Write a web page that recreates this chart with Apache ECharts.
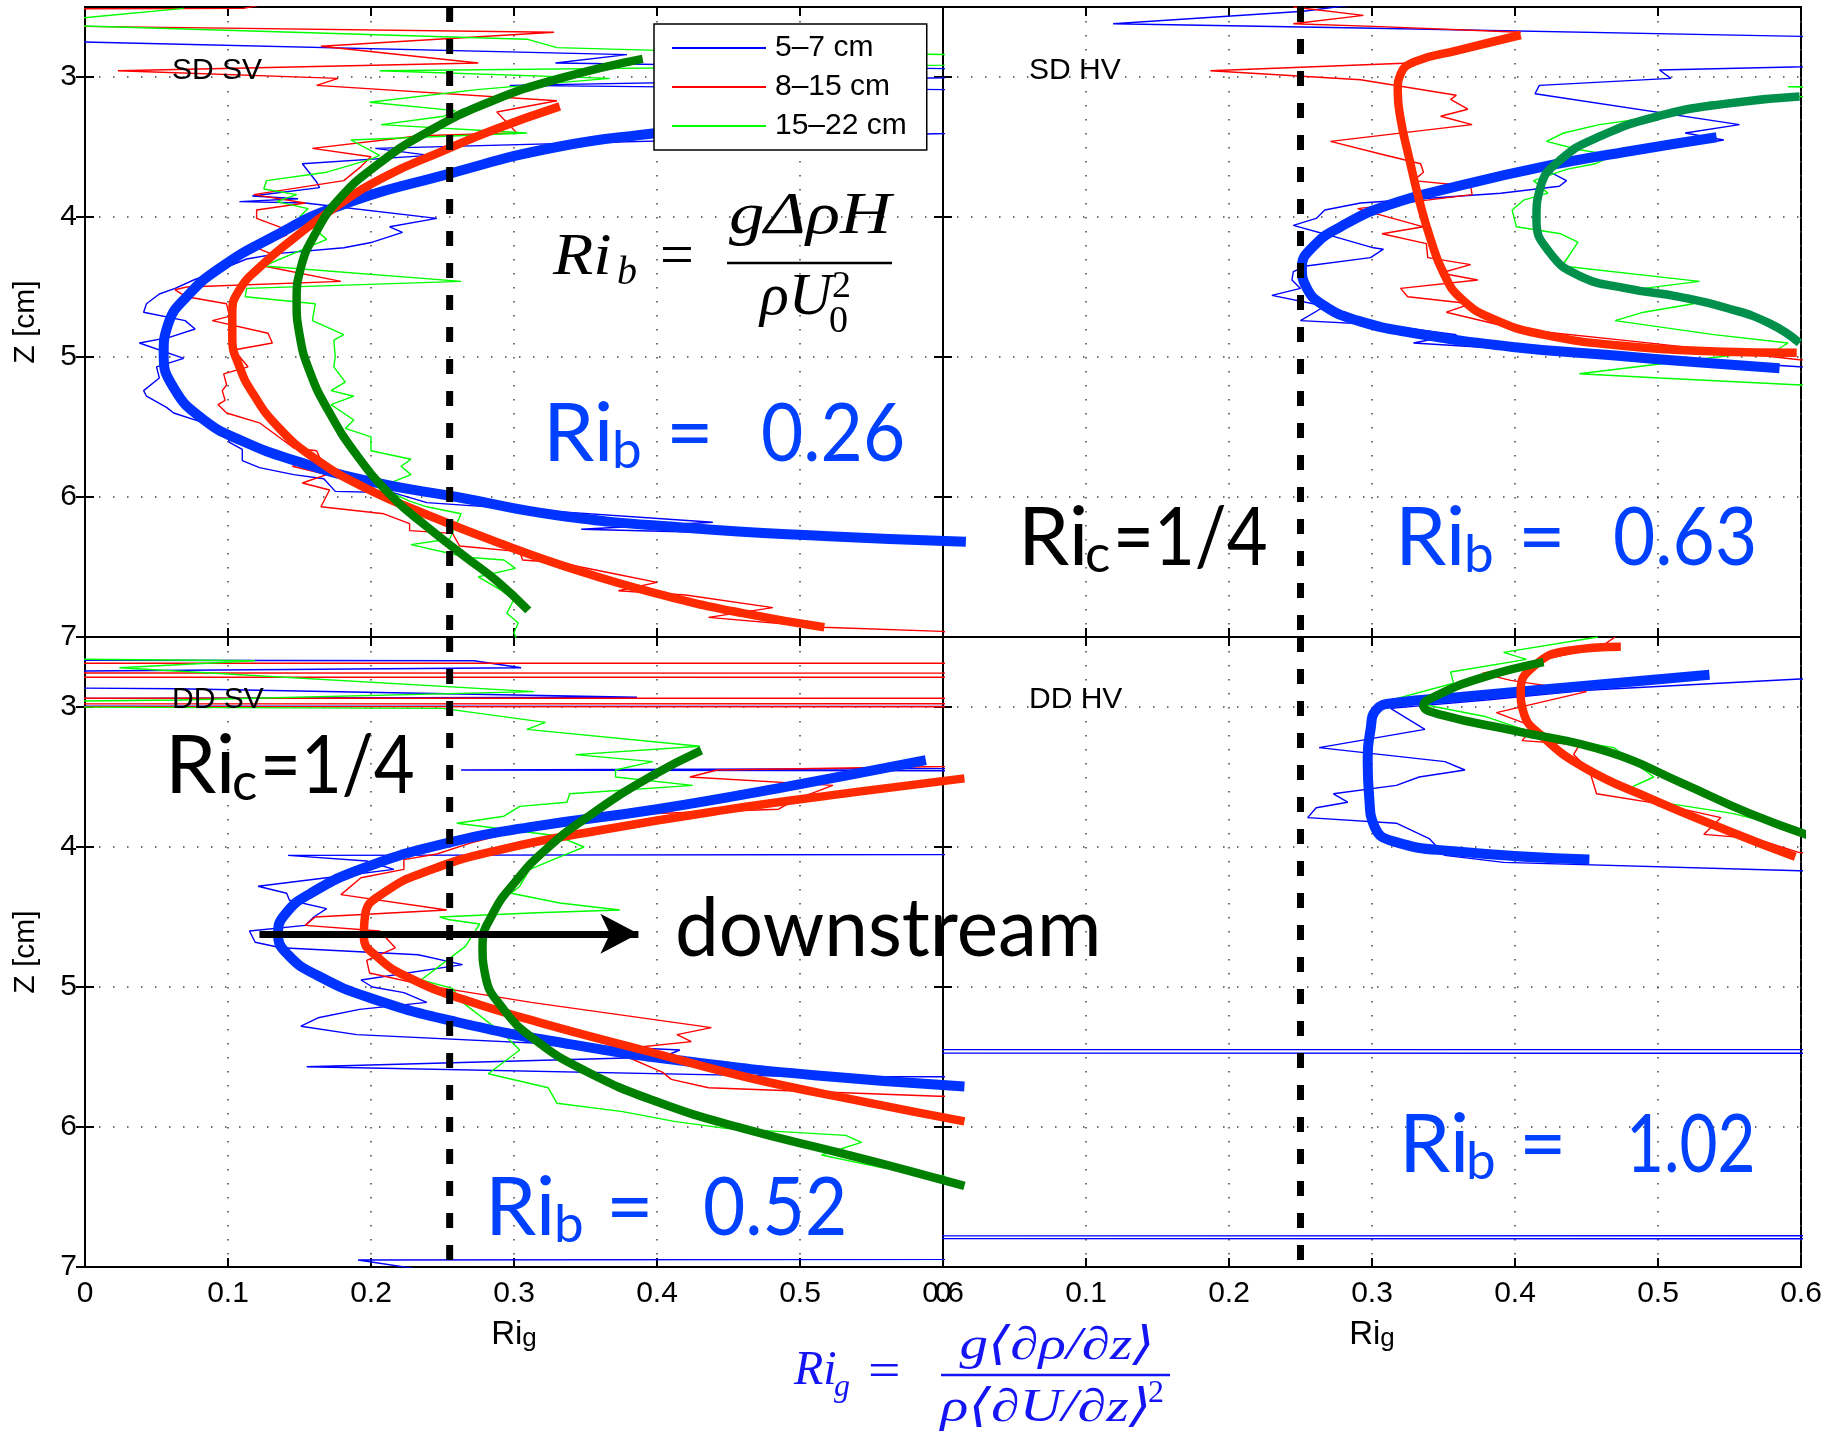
<!DOCTYPE html>
<html><head><meta charset="utf-8">
<script src="https://cdn.jsdelivr.net/npm/echarts@6/dist/echarts.min.js"></script>
<style>html,body{margin:0;padding:0;background:#fff}#c{width:1834px;height:1441px}</style>
</head><body><div id="c"></div>
<script>
// ---------------- DATA (x = Ri_g, y = Z [cm]) ----------------
const legendNames = ['5–7 cm', '8–15 cm', '15–22 cm'];
const panelTitles = ['SD SV', 'SD HV', 'DD SV', 'DD HV'];
const ribValues = ['0.26', '0.63', '0.52', '1.02'];
const RIC_LEFT = 0.255, RIC_RIGHT = 0.25;
const yTickValues = [3, 4, 5, 6, 7];
const arrowZ = 4.62, arrowX0 = 0.122, arrowX1 = 0.387;

// SD SV (top-left)
const sdsv_blue = [[-0.3,2.68],[0.379,2.84],[0.329,2.90],[0.8,2.97],[0.297,3.06],[0.8,3.11],[0.8,3.35],[0.203,3.51],[0.241,3.56],[0.152,3.62],[0.162,3.75],[0.164,3.79],[0.117,3.85],[0.149,3.87],[0.108,3.89],[0.154,3.90],[0.246,4.01],[0.213,4.07],[0.222,4.11],[0.201,4.18],[0.181,4.22],[0.136,4.26],[0.113,4.30],[0.094,4.38],[0.076,4.45],[0.063,4.51],[0.052,4.55],[0.043,4.62],[0.041,4.68],[0.070,4.74],[0.077,4.80],[0.059,4.86],[0.038,4.90],[0.069,5.01],[0.050,5.07],[0.052,5.15],[0.041,5.24],[0.043,5.28],[0.057,5.36],[0.062,5.40],[0.080,5.46],[0.099,5.54],[0.101,5.61],[0.110,5.66],[0.110,5.74],[0.122,5.79],[0.146,5.84],[0.167,5.87],[0.175,5.96],[0.216,5.97],[0.239,6.04],[0.439,6.18],[0.347,6.23],[0.5,6.27],[0.62,6.31]];
const sdsv_red = [[0.13,2.47],[0.111,2.51],[-0.3,2.52],[-0.3,2.60],[0.328,2.68],[0.165,2.78],[0.275,2.90],[0.023,2.955],[0.177,3.01],[0.162,3.06],[0.33,3.17],[0.288,3.25],[0.302,3.40],[0.234,3.42],[0.159,3.51],[0.200,3.57],[0.193,3.64],[0.181,3.74],[0.118,3.84],[0.154,3.90],[0.120,3.95],[0.120,4.01],[0.141,4.09],[0.141,4.13],[0.120,4.22],[0.132,4.27],[0.125,4.35],[0.179,4.46],[0.071,4.50],[0.063,4.52],[0.071,4.57],[0.099,4.62],[0.101,4.71],[0.089,4.74],[0.128,4.83],[0.131,4.90],[0.104,4.95],[0.114,5.07],[0.097,5.12],[0.099,5.20],[0.096,5.24],[0.098,5.31],[0.093,5.34],[0.099,5.40],[0.122,5.47],[0.146,5.65],[0.162,5.67],[0.165,5.74],[0.145,5.78],[0.169,5.84],[0.152,5.90],[0.171,5.95],[0.165,6.07],[0.209,6.12],[0.227,6.19],[0.227,6.24],[0.257,6.26],[0.262,6.35],[0.304,6.39],[0.306,6.45],[0.332,6.47],[0.371,6.55],[0.40,6.61],[0.373,6.67],[0.42,6.70],[0.481,6.79],[0.436,6.86],[0.516,6.93],[0.599,6.96],[0.62,6.98]];
const sdsv_green = [[0.069,2.51],[-0.02,2.595],[-0.02,2.63],[0.309,2.73],[0.33,2.79],[0.40,2.81],[0.75,2.86],[0.75,2.90],[0.206,2.955],[0.367,3.01],[0.274,3.09],[0.199,3.18],[0.259,3.24],[0.251,3.28],[0.207,3.34],[0.309,3.40],[0.186,3.45],[0.206,3.56],[0.199,3.59],[0.169,3.68],[0.127,3.74],[0.125,3.80],[0.148,3.84],[0.134,3.89],[0.156,3.94],[0.15,4.0],[0.16,4.08],[0.169,4.16],[0.155,4.22],[0.125,4.35],[0.263,4.46],[0.113,4.51],[0.112,4.57],[0.161,4.62],[0.159,4.74],[0.181,4.84],[0.174,4.88],[0.175,5.0],[0.174,5.07],[0.182,5.18],[0.172,5.24],[0.188,5.28],[0.172,5.34],[0.188,5.45],[0.182,5.51],[0.200,5.57],[0.200,5.67],[0.228,5.73],[0.221,5.78],[0.228,5.84],[0.206,5.93],[0.227,6.03],[0.239,6.07],[0.263,6.12],[0.255,6.30],[0.228,6.34],[0.267,6.43],[0.293,6.45],[0.301,6.51],[0.275,6.57],[0.290,6.66],[0.300,6.73],[0.295,6.83],[0.303,6.90],[0.300,6.97],[0.302,7.02]];
const sdsv_blue_fit = [[0.56,3.20],[0.40,3.40],[0.33,3.50],[0.255,3.69],[0.175,3.93],[0.13,4.15],[0.095,4.36],[0.072,4.56],[0.058,4.77],[0.055,4.98],[0.062,5.22],[0.082,5.44],[0.11,5.60],[0.15,5.75],[0.20,5.89],[0.26,6.00],[0.33,6.13],[0.42,6.22],[0.52,6.28],[0.616,6.32]];
const sdsv_red_fit = [[0.332,3.21],[0.285,3.38],[0.25,3.53],[0.21,3.71],[0.175,3.93],[0.145,4.16],[0.122,4.36],[0.108,4.52],[0.103,4.68],[0.103,4.86],[0.108,5.07],[0.118,5.27],[0.135,5.50],[0.160,5.72],[0.195,5.93],[0.24,6.13],[0.29,6.33],[0.34,6.51],[0.40,6.69],[0.46,6.83],[0.517,6.93]];
const sdsv_green_fit = [[0.390,2.87],[0.332,3.01],[0.285,3.17],[0.240,3.39],[0.204,3.63],[0.177,3.88],[0.161,4.12],[0.151,4.36],[0.148,4.60],[0.150,4.84],[0.157,5.10],[0.170,5.38],[0.190,5.70],[0.215,6.00],[0.240,6.22],[0.265,6.42],[0.288,6.60],[0.310,6.81]];

// SD HV (top-right)
const sdhv_blue = [[0.29,2.48],[0.252,2.53],[0.119,2.62],[0.292,2.65],[0.6,2.71],[0.8,2.80],[0.8,2.88],[0.501,2.95],[0.509,3.01],[0.417,3.06],[0.414,3.12],[0.557,3.34],[0.519,3.40],[0.546,3.45],[0.48,3.55],[0.419,3.65],[0.436,3.74],[0.431,3.78],[0.390,3.83],[0.292,3.90],[0.267,3.95],[0.261,4.01],[0.245,4.06],[0.270,4.13],[0.301,4.22],[0.308,4.23],[0.299,4.29],[0.254,4.35],[0.245,4.39],[0.244,4.45],[0.250,4.51],[0.230,4.56],[0.264,4.63],[0.265,4.65],[0.250,4.74],[0.306,4.77],[0.359,4.84],[0.329,4.90],[0.599,5.07],[0.8,5.12]];
const sdhv_red = [[0.245,2.50],[0.294,2.56],[0.245,2.62],[0.306,2.64],[0.404,2.68],[0.36,2.81],[0.327,2.90],[0.187,2.955],[0.292,3.02],[0.359,3.13],[0.355,3.16],[0.367,3.23],[0.348,3.28],[0.370,3.34],[0.271,3.46],[0.306,3.55],[0.334,3.62],[0.336,3.68],[0.329,3.74],[0.369,3.78],[0.370,3.84],[0.29,3.94],[0.336,4.07],[0.307,4.12],[0.338,4.19],[0.339,4.29],[0.369,4.34],[0.348,4.40],[0.374,4.45],[0.320,4.51],[0.325,4.57],[0.369,4.62],[0.352,4.68],[0.401,4.80],[0.485,4.89],[0.599,5.02],[0.8,5.05]];
const sdhv_green = [[0.7,3.05],[0.591,3.07],[0.7,3.10],[0.599,3.14],[0.536,3.18],[0.501,3.28],[0.459,3.34],[0.434,3.40],[0.422,3.46],[0.445,3.52],[0.469,3.56],[0.456,3.62],[0.436,3.66],[0.413,3.74],[0.423,3.83],[0.406,3.88],[0.398,3.95],[0.401,4.07],[0.432,4.12],[0.444,4.18],[0.433,4.35],[0.529,4.46],[0.490,4.51],[0.525,4.62],[0.490,4.68],[0.470,4.74],[0.539,4.84],[0.591,4.90],[0.583,4.95],[0.501,5.05],[0.445,5.12],[0.501,5.15],[0.6,5.2],[0.7,5.22]];
const sdhv_blue_fit = [[0.541,3.43],[0.48,3.53],[0.42,3.64],[0.36,3.78],[0.31,3.92],[0.278,4.07],[0.259,4.21],[0.251,4.36],[0.254,4.50],[0.266,4.63],[0.29,4.74],[0.33,4.83],[0.40,4.93],[0.47,4.99],[0.53,5.04],[0.585,5.08]];
const sdhv_red_fit = [[0.404,2.70],[0.36,2.81],[0.33,2.89],[0.32,2.98],[0.318,3.10],[0.320,3.30],[0.326,3.58],[0.333,3.88],[0.341,4.16],[0.350,4.40],[0.362,4.58],[0.385,4.73],[0.42,4.84],[0.475,4.92],[0.54,4.96],[0.597,4.97]];
const sdhv_green_fit = [[0.599,3.14],[0.548,3.19],[0.50,3.28],[0.458,3.43],[0.432,3.59],[0.418,3.78],[0.415,4.02],[0.424,4.25],[0.445,4.42],[0.478,4.51],[0.515,4.57],[0.548,4.65],[0.578,4.76],[0.599,4.90]];

// DD SV (bottom-left)
const ddsv_blue = [[-0.5,2.66],[0.272,2.67],[0.305,2.72],[-0.5,2.78],[-0.2,2.85],[0.064,2.87],[0.386,2.93],[-0.5,2.95],[-5,2.99],[5,3.0],[5,3.30],[0.263,3.45],[5,3.52],[5,3.99],[0.142,4.06],[0.197,4.10],[0.216,4.16],[0.169,4.22],[0.121,4.28],[0.141,4.33],[0.143,4.38],[0.169,4.44],[0.160,4.50],[0.154,4.56],[0.115,4.60],[0.119,4.68],[0.137,4.72],[0.233,4.77],[0.264,4.84],[0.193,4.95],[0.201,5.0],[0.223,5.04],[0.239,5.11],[0.192,5.16],[0.163,5.22],[0.151,5.28],[0.190,5.34],[0.416,5.45],[0.404,5.50],[0.155,5.57],[0.504,5.64],[5,5.70],[5,6.90],[0.191,6.95],[0.23,7.01]];
const ddsv_red = [[0.50,2.48],[5,2.56],[5,2.685],[-5,2.69],[-5,2.755],[5,2.76],[5,2.785],[-5,2.79],[-5,2.935],[5,2.94],[5,2.975],[-5,2.98],[-5,2.995],[5,3.0],[0.7,3.41],[0.442,3.45],[0.423,3.50],[0.523,3.56],[0.497,3.66],[0.485,3.73],[0.374,3.77],[0.304,3.88],[0.27,3.97],[0.246,4.05],[0.223,4.09],[0.223,4.16],[0.193,4.22],[0.179,4.34],[0.253,4.45],[0.161,4.50],[0.154,4.56],[0.206,4.60],[0.217,4.72],[0.197,4.81],[0.199,4.90],[0.239,4.99],[0.312,5.11],[0.438,5.29],[0.414,5.34],[0.424,5.39],[0.368,5.45],[0.404,5.61],[0.410,5.66],[0.436,5.72],[0.597,5.78],[0.8,5.80]];
const ddsv_green = [[-0.3,2.63],[0.119,2.67],[0.024,2.72],[0.314,2.89],[0.066,2.95],[-0.3,2.99],[0.25,3.01],[0.322,3.11],[0.309,3.16],[0.430,3.28],[0.343,3.34],[0.397,3.39],[0.371,3.45],[0.371,3.50],[0.425,3.56],[0.339,3.62],[0.337,3.68],[0.304,3.71],[0.293,3.78],[0.260,3.83],[0.33,3.92],[0.349,4.0],[0.332,4.07],[0.311,4.16],[0.304,4.28],[0.298,4.33],[0.332,4.40],[0.374,4.45],[0.316,4.47],[0.248,4.50],[0.255,4.52],[0.276,4.55],[0.266,4.71],[0.235,4.95],[0.257,5.01],[0.264,5.11],[0.292,5.33],[0.304,5.45],[0.282,5.62],[0.324,5.72],[0.330,5.83],[0.376,5.89],[0.412,5.96],[0.448,6.01],[0.532,6.06],[0.543,6.11],[0.515,6.20],[0.557,6.29],[0.608,6.36],[0.7,6.40]];
const ddsv_blue_fit = [[0.588,3.38],[0.49,3.57],[0.40,3.73],[0.31,3.86],[0.25,3.98],[0.195,4.15],[0.158,4.33],[0.140,4.48],[0.135,4.62],[0.142,4.77],[0.163,4.92],[0.20,5.08],[0.26,5.25],[0.34,5.41],[0.42,5.53],[0.51,5.63],[0.615,5.71]];
const ddsv_red_fit = [[0.615,3.51],[0.537,3.61],[0.444,3.74],[0.36,3.88],[0.29,4.02],[0.24,4.17],[0.210,4.32],[0.196,4.48],[0.195,4.64],[0.205,4.79],[0.228,4.94],[0.265,5.09],[0.32,5.26],[0.39,5.45],[0.465,5.65],[0.545,5.82],[0.615,5.96]];
const ddsv_green_fit = [[0.431,3.31],[0.395,3.50],[0.355,3.76],[0.322,4.02],[0.300,4.26],[0.285,4.48],[0.278,4.70],[0.280,4.92],[0.292,5.15],[0.315,5.38],[0.35,5.60],[0.40,5.82],[0.46,6.01],[0.53,6.19],[0.575,6.31],[0.615,6.42]];

// DD HV (bottom-right)
const ddhv_blue = [[0.8,2.78],[0.599,2.80],[0.450,2.88],[0.380,2.95],[0.313,3.01],[0.337,3.16],[0.263,3.29],[0.351,3.39],[0.365,3.45],[0.333,3.50],[0.317,3.56],[0.273,3.62],[0.283,3.68],[0.261,3.72],[0.255,3.79],[0.317,3.83],[0.340,3.94],[0.351,4.06],[0.392,4.11],[0.599,4.17],[5,4.25],[5,5.445],[-5,5.45],[-5,5.47],[5,5.475],[5,6.775],[-5,6.78],[-5,6.795],[5,6.80]];
const ddhv_red = [[0.470,2.50],[0.460,2.57],[0.408,2.69],[0.377,2.76],[0.397,2.81],[0.450,2.89],[0.387,3.04],[0.413,3.14],[0.405,3.24],[0.445,3.27],[0.441,3.34],[0.452,3.45],[0.457,3.62],[0.500,3.69],[0.544,3.79],[0.532,3.91],[0.568,3.94],[0.599,4.04],[0.7,4.08]];
const ddhv_green = [[0.458,2.50],[0.392,2.61],[0.408,2.66],[0.355,2.75],[0.357,2.83],[0.317,2.94],[0.345,3.00],[0.380,3.07],[0.417,3.20],[0.469,3.29],[0.497,3.50],[0.480,3.58],[0.508,3.69],[0.552,3.76],[0.599,3.88],[0.7,3.90]];
const ddhv_blue_fit = [[0.536,2.77],[0.436,2.86],[0.36,2.93],[0.317,2.97],[0.303,3.02],[0.299,3.16],[0.297,3.40],[0.298,3.64],[0.302,3.86],[0.315,3.96],[0.357,4.03],[0.452,4.09]];
const ddhv_red_fit = [[0.474,2.57],[0.436,2.60],[0.413,2.71],[0.404,2.88],[0.406,3.04],[0.418,3.20],[0.448,3.43],[0.496,3.66],[0.548,3.88],[0.596,4.07]];
const ddhv_green_fit = [[0.420,2.68],[0.377,2.79],[0.347,2.91],[0.336,2.99],[0.350,3.06],[0.400,3.17],[0.465,3.32],[0.516,3.54],[0.564,3.76],[0.612,3.94]];

// ---------------- CHART ----------------
const FONT_SANS = '"Liberation Sans", Arial, sans-serif';
const FONT_GILL = 'Lato, "Open Sans", sans-serif';
const FONT_TEX = '"Liberation Serif", "DejaVu Serif", serif';
const C_THIN = ['#0000ff', '#ff0000', '#00ff00'];
const C_FIT = ['#0033ff', '#ff2a00', '#008000'];
const W_FIT = [10, 8.5, 8.5];
const C_FIT_GREEN_TR = '#00904c';
const C_ANN = '#0040ff';
const X_MAX = 0.6, X_OVER = 0.65; // overlay range so the fitted curves of the left panels may run past the frame

const grids = [
  {left: 85, top: 7, width: 858, height: 630},
  {left: 943, top: 7, width: 858, height: 630},
  {left: 85, top: 637, width: 858, height: 630},
  {left: 943, top: 637, width: 858, height: 630}
].map(g => Object.assign(g, {show: true, borderColor: '#000', borderWidth: 2, backgroundColor: 'transparent'}));
grids.push({left: 85, top: 7, width: 858 * X_OVER / X_MAX, height: 630, show: false});
grids.push({left: 85, top: 637, width: 858 * X_OVER / X_MAX, height: 630, show: false});

const tickStyle = {show: true, inside: true, length: 9, lineStyle: {color: '#000', width: 2}};
const gridLine = {show: true, lineStyle: {color: '#444', width: 1.5, type: [1.5, 12.5]}};

const xAxis = [], yAxis = [];
for (let i = 0; i < 4; i++) {
  const bottomRow = i >= 2, leftCol = i % 2 === 0;
  xAxis.push({
    type: 'value', gridIndex: i, min: 0, max: X_MAX, interval: 0.1, position: 'bottom',
    axisLine: {show: true, onZero: false, lineStyle: {color: '#000', width: 2}},
    axisTick: tickStyle,
    axisLabel: {show: bottomRow, fontSize: 30, fontFamily: FONT_SANS, color: '#000', margin: 12,
      formatter: v => String(Math.round(v * 10) / 10)},
    splitLine: gridLine,
    name: bottomRow ? '{r|Ri}{s|g}' : '', nameLocation: 'middle', nameGap: 47,
    nameTextStyle: {rich: {
      r: {fontSize: 33, fontFamily: FONT_SANS, color: '#000', verticalAlign: 'top', lineHeight: 33},
      s: {fontSize: 26, fontFamily: FONT_SANS, color: '#000', verticalAlign: 'bottom', lineHeight: 26, padding: [16, 0, 0, 0]}
    }}
  });
  yAxis.push({
    type: 'value', gridIndex: i, min: 2.5, max: 7, inverse: true, position: 'left',
    axisLine: {show: true, onZero: false, lineStyle: {color: '#000', width: 2}},
    axisTick: Object.assign({customValues: yTickValues}, tickStyle),
    axisLabel: {show: leftCol, customValues: yTickValues, fontSize: 30, fontFamily: FONT_SANS, color: '#000', margin: 8},
    splitLine: gridLine,
    name: leftCol ? 'Z [cm]' : '', nameLocation: 'middle', nameRotate: 90, nameGap: 44,
    nameTextStyle: {fontSize: 30, fontFamily: FONT_SANS, color: '#000'}
  });
}
for (let i = 0; i < 4; i++) {
  xAxis.push({type: 'value', gridIndex: i, min: 0, max: X_MAX, interval: 0.1, position: 'top',
    axisLine: {show: false}, axisTick: tickStyle, axisLabel: {show: false}, splitLine: {show: false}});
  yAxis.push({type: 'value', gridIndex: i, min: 2.5, max: 7, inverse: true, position: 'right',
    axisLine: {show: false}, axisTick: Object.assign({customValues: yTickValues}, tickStyle),
    axisLabel: {show: false}, splitLine: {show: false}});
}
[4, 5].forEach(g => {
  xAxis.push({type: 'value', gridIndex: g, min: 0, max: X_OVER, show: false, splitLine: {show: false}});
  yAxis.push({type: 'value', gridIndex: g, min: 2.5, max: 7, inverse: true, show: false, splitLine: {show: false}});
});
const fitAxis = [8, 1, 9, 3];

const series = [];
function thin(p, k, data) {
  series.push({type: 'line', name: legendNames[k], xAxisIndex: p, yAxisIndex: p, data,
    symbol: 'none', showSymbol: false, clip: true, z: 2, silent: true,
    lineStyle: {width: 1.4, color: C_THIN[k]}, itemStyle: {color: C_THIN[k]}});
}
function fit(p, k, data, color) {
  const c = color || C_FIT[k];
  const a = fitAxis[p];
  series.push({type: 'line', name: 'fit ' + legendNames[k], xAxisIndex: a, yAxisIndex: a, data,
    symbol: 'none', showSymbol: false, clip: false, z: 3, silent: true, smooth: 0.5,
    lineStyle: {width: W_FIT[k], color: c, cap: 'butt', join: 'round'}, itemStyle: {color: c}});
}
function ric(p, x) {
  series.push({type: 'line', name: 'Ri_c', xAxisIndex: p, yAxisIndex: p, data: [[x, 2.5], [x, 7]],
    symbol: 'none', clip: true, z: 5, silent: true,
    lineStyle: {width: 7, color: '#000', type: [15, 17], cap: 'butt'}});
}

const panels = [
  [sdsv_blue, sdsv_red, sdsv_green, sdsv_blue_fit, sdsv_red_fit, sdsv_green_fit],
  [sdhv_blue, sdhv_red, sdhv_green, sdhv_blue_fit, sdhv_red_fit, sdhv_green_fit],
  [ddsv_blue, ddsv_red, ddsv_green, ddsv_blue_fit, ddsv_red_fit, ddsv_green_fit],
  [ddhv_blue, ddhv_red, ddhv_green, ddhv_blue_fit, ddhv_red_fit, ddhv_green_fit]
];
panels.forEach((d, p) => {
  thin(p, 0, d[0]); thin(p, 1, d[1]); thin(p, 2, d[2]);
  fit(p, 0, d[3]); fit(p, 1, d[4]); fit(p, 2, d[5], p === 1 ? C_FIT_GREEN_TR : null);
  ric(p, p % 2 === 0 ? RIC_LEFT : RIC_RIGHT);
});

// "downstream" arrow
series.push({type: 'line', name: 'arrow', xAxisIndex: 2, yAxisIndex: 2, data: [], z: 6, silent: true,
  markLine: {silent: true, symbol: ['none', 'arrow'], symbolSize: [30, 38], animation: false,
    lineStyle: {color: '#000', width: 7, type: 'solid'}, label: {show: false},
    data: [[{coord: [arrowX0, arrowZ]}, {coord: [arrowX1, arrowZ]}]]}});

// ---------------- annotations ----------------
function T(x, y, text, font, fill, align, sx) {
  return {type: 'text', x, y, z: 100, silent: true, scaleX: sx || 1,
    style: {text, font, fill: fill || '#000', textAlign: align || 'left', textVerticalAlign: 'middle', verticalAlign: 'middle'}};
}
function L(x1, y1, x2, y2, color, w) {
  return {type: 'line', z: 100, silent: true, shape: {x1, y1, x2, y2}, style: {stroke: color, lineWidth: w}};
}
const G = 82, GS = 53;
const gM = s => 0.387 * s;
const graphic = [];
[[172, 70.5], [1029, 70.5], [172, 700], [1029, 700]].forEach((p, i) =>
  graphic.push(T(p[0], p[1], panelTitles[i], '30px ' + FONT_SANS, '#000')));
function rib(x, base, val, xs, sx) {
  graphic.push(T(x, base - gM(G), 'Ri', G + 'px ' + FONT_GILL, C_ANN));
  graphic.push(T(xs[0], base + 5 - gM(GS), 'b', GS + 'px ' + FONT_GILL, C_ANN));
  graphic.push(T(xs[1], base - gM(G), '=', G + 'px ' + FONT_GILL, C_ANN));
  graphic.push(T(xs[2], base - gM(G), val, G + 'px ' + FONT_GILL, C_ANN, 'left', sx));
}
rib(543, 466, ribValues[0], [612, 666, 761], 0.89);
rib(1395, 570, ribValues[1], [1464, 1518, 1613], 0.89);
rib(485, 1240, ribValues[2], [554, 606, 703], 0.89);
rib(1399, 1177, ribValues[3], [1466, 1519, 1626], 0.8);
function ricLabel(x, base) {
  graphic.push(T(x, base - gM(G), 'Ri', G + 'px ' + FONT_GILL, '#000'));
  graphic.push(T(x + 67, base + 5 - gM(GS), 'c', GS + 'px ' + FONT_GILL, '#000'));
  graphic.push(T(x + 95, base - gM(G), '=1/4', G + 'px ' + FONT_GILL, '#000', 'left', 0.86));
}
ricLabel(1018, 570);
ricLabel(165, 798);
graphic.push(T(675, 961 - gM(G), 'downstream', G + 'px ' + FONT_GILL, '#000', 'left', 0.955));

// Ri_b formula (top-left)
const tM = s => 0.3375 * s;
graphic.push(T(553, 278 - tM(60), 'Ri', 'italic 60px ' + FONT_TEX, '#000', 'left', 1.1));
graphic.push(T(617, 287 - tM(40), 'b', 'italic 40px ' + FONT_TEX, '#000'));
graphic.push(T(660, 278 - tM(60), '=', '60px ' + FONT_TEX, '#000'));
graphic.push(T(810, 237 - tM(60), 'gΔρH', 'italic 60px ' + FONT_TEX, '#000', 'center', 1.18));
graphic.push(L(727, 263, 892, 263, '#000', 2.5));
graphic.push(T(760, 318 - tM(60), 'ρU', 'italic 60px ' + FONT_TEX, '#000'));
graphic.push(T(829, 335 - tM(38), '0', '38px ' + FONT_TEX, '#000'));
graphic.push(T(832, 300 - tM(38), '2', '38px ' + FONT_TEX, '#000'));

// Ri_g formula (bottom, blue)
const FB = '#1414f5';
graphic.push(T(794, 1388 - tM(48), 'Ri', 'italic 48px ' + FONT_TEX, FB));
graphic.push(T(834, 1398 - tM(32), 'g', 'italic 32px ' + FONT_TEX, FB));
graphic.push(T(868, 1390 - tM(48), '=', '48px ' + FONT_TEX, FB, 'left', 1.2));
graphic.push(T(1057, 1362 - tM(46), 'g⟨∂ρ/∂z⟩', 'italic 46px ' + FONT_TEX, FB, 'center', 1.24));
graphic.push(L(941, 1375, 1170, 1375, FB, 2.5));
graphic.push(T(1046, 1424 - tM(46), 'ρ⟨∂U/∂z⟩', 'italic 46px ' + FONT_TEX, FB, 'center', 1.26));
graphic.push(T(1148, 1404 - tM(32), '2', '32px ' + FONT_TEX, FB));

const option = {
  animation: false,
  backgroundColor: '#fff',
  grid: grids, xAxis, yAxis, series, graphic,
  legend: {
    data: legendNames, orient: 'vertical', left: 654, top: 24, z: 50,
    itemWidth: 94, itemHeight: 2, itemGap: 9, icon: 'rect', selectedMode: false,
    padding: [9, 20, 9, 18], backgroundColor: '#fff', borderColor: '#000', borderWidth: 1.5,
    textStyle: {fontSize: 30, fontFamily: FONT_SANS, color: '#000', lineHeight: 30, padding: [0, 0, 0, 4]}
  }
};
const chart = echarts.init(document.getElementById('c'));
chart.setOption(option);
</script></body></html>
